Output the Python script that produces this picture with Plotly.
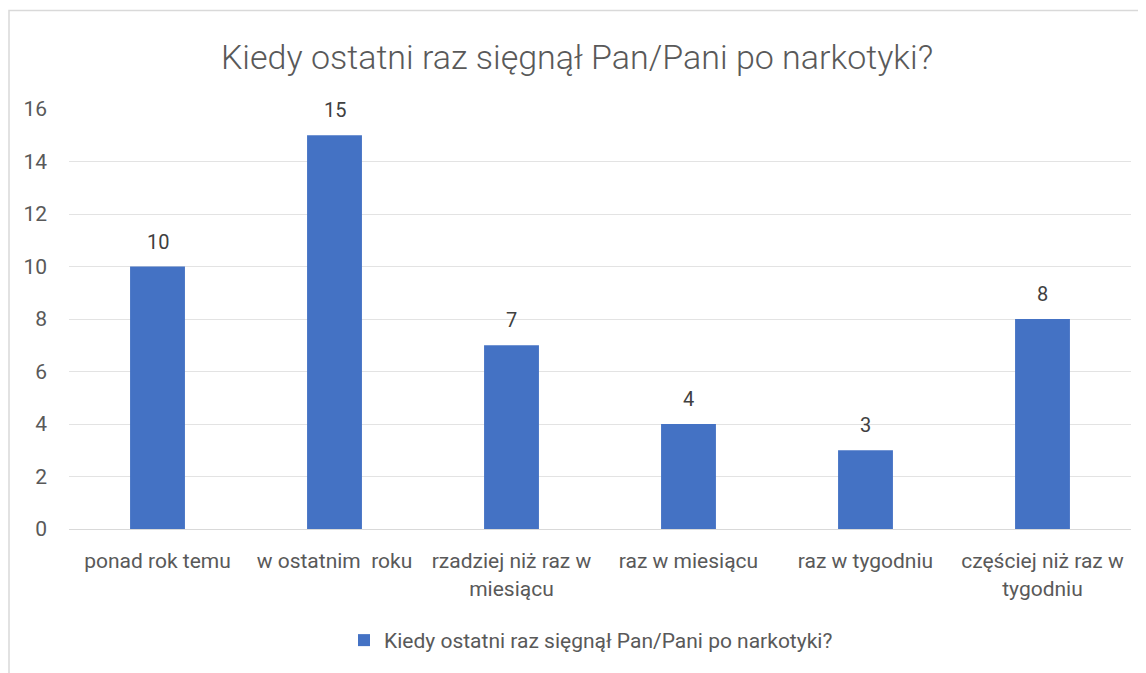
import plotly.graph_objects as go

categories = ["ponad rok temu", "w ostatnim  roku", "rzadziej niż raz w<br>miesiącu",
              "raz w miesiącu", "raz w tygodniu", "częściej niż raz w<br>tygodniu"]
values = [10, 15, 7, 4, 3, 8]
series_name = "Kiedy ostatni raz sięgnął Pan/Pani po narkotyki?"
title_text = "Kiedy ostatni raz sięgnął Pan/Pani po narkotyki?"
y_ticks = [0, 2, 4, 6, 8, 10, 12, 14, 16]

FONT = "Roboto, Open Sans, sans-serif"
GREY = "#595959"

W, H = 1138, 665
L, R, T, B = 61, 15, 101, 142
PW, PH = W - L - R, H - T - B

fig = go.Figure()
fig.add_trace(go.Bar(
    x=categories, y=values, name=series_name,
    marker=dict(color="#4472C4", line=dict(width=0)),
    showlegend=True,
))

for c, v in zip(categories, values):
    fig.add_annotation(x=c, y=v, text=str(v), showarrow=False, yanchor="bottom",
                       yshift=11, font=dict(family=FONT, size=20, color="#404040"))

fig.update_layout(
    width=W, height=H,
    paper_bgcolor="white", plot_bgcolor="white",
    margin=dict(l=L, r=R, t=T, b=B),
    bargap=0.69,
    title=dict(text=title_text, x=0.5, xanchor="center", y=1 - 49 / H, yanchor="middle",
               font=dict(family=FONT, size=34, color=GREY, weight=300)),
    font=dict(family=FONT, color=GREY, size=21),
    showlegend=True,
    legend=dict(orientation="h", x=(583 - L) / PW, xanchor="center", y=(T + PH - 635) / PH,
                yanchor="middle",
                font=dict(family=FONT, size=21, color=GREY), itemsizing="constant"),
    xaxis=dict(showgrid=False, showline=True, linecolor="#D9D9D9", linewidth=1,
               ticks="", ticklabelstandoff=13,
               tickfont=dict(family=FONT, size=21, color=GREY)),
    yaxis=dict(range=[0, 16], tickvals=y_ticks, showgrid=True, gridcolor="#E3E3E3",
               gridwidth=1, zeroline=False, showline=False, ticks="", ticklabelstandoff=21,
               tickfont=dict(family=FONT, size=21, color=GREY)),
    shapes=[dict(type="rect", xref="paper", yref="paper",
                 x0=(1 - L) / PW, x1=(W + 10 - L) / PW,
                 y0=(T + PH - (H + 10)) / PH, y1=(T + PH - 2) / PH,
                 line=dict(color="#D9D9D9", width=1.5), fillcolor="rgba(0,0,0,0)", layer="below")],
)

fig.write_html("out.html")
